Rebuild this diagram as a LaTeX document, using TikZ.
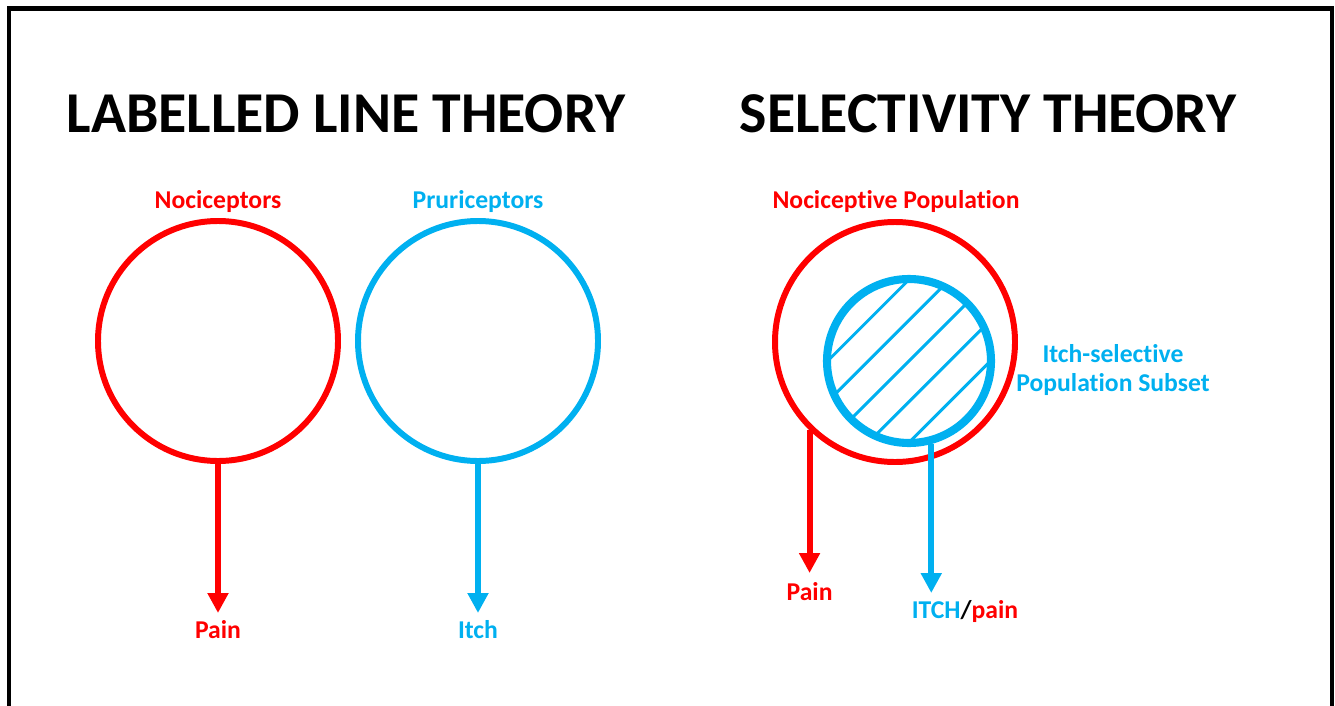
\documentclass[tikz,border=0pt]{standalone}
\usepackage{fontspec}
\setmainfont{Carlito}[Ligatures=NoCommon]
\usetikzlibrary{arrows.meta, positioning, calc}
\definecolor{PainRed}{HTML}{FF0000}
\definecolor{ItchBlue}{HTML}{00B0F0}
\tikzset{
  ttl/.style={font=\fontsize{32.9}{40}\selectfont\bfseries, anchor=base},
  lab/.style={font=\fontsize{14.6}{17}\selectfont\bfseries, inner sep=0pt},
  popcircle/.style={circle, draw, line width=3.4pt, minimum size=4.8cm, inner sep=0pt},
  outarrow/.style={line width=3.4pt, -{Triangle[width=0.4cm,length=0.4cm]}},
}

\begin{document}
\begin{tikzpicture}
    \useasboundingbox (0,0) rectangle (26.7,14.1);
    % Frame (its bottom edge runs off the page)
    \draw[line width=2.3pt] (0.18,-0.5) -- (0.18,13.93) -- (26.64,13.93) -- (26.64,-0.5);

    % Titles
    \node[ttl] (lltTitle) at (6.92,11.46) {LABELLED LINE THEORY};
    \node[ttl] (selTitle) at (19.76,11.46) {SELECTIVITY THEORY};

    % Labelled line theory
    \node[popcircle, PainRed] (noci) at (4.36,7.28) {};
    \node[popcircle, ItchBlue] (pruri) at (9.56,7.28) {};
    \node[lab, PainRed, anchor=base] (nociLab) at (4.36,9.94) {Nociceptors};
    \node[lab, ItchBlue, anchor=base] (pruriLab) at (9.56,9.94) {Pruriceptors};

    \coordinate (painTip) at (noci.south |- 0,1.84);
    \coordinate (itchTip) at (pruri.south |- 0,1.84);
    \draw[outarrow, PainRed] (noci.south) -- (painTip);
    \draw[outarrow, ItchBlue] (pruri.south) -- (itchTip);
    \node[lab, PainRed, below=0.14cm of painTip] (painLab) {Pain};
    \node[lab, ItchBlue, below=0.14cm of itchTip] (itchLab) {Itch};

    % Selectivity theory
    \node[popcircle, PainRed] (nociPop) at (17.9,7.26) {};
    \node[lab, PainRed, anchor=base] (nociPopLab) at (17.92,9.94) {Nociceptive Population};

    % hatched subset
    \coordinate (subC) at (18.18,6.88);
    \begin{scope}
        \clip (subC) circle (1.64);
        \foreach \k in {-2,...,2}
            \draw[ItchBlue, line width=1.7pt] ($(subC)+(\k*0.407,-\k*0.407)+(-2,-2)$) -- ++(4,4);
    \end{scope}
    \node[circle, draw=ItchBlue, line width=4.6pt, minimum size=3.28cm, inner sep=0pt] (itchSub) at (subC) {};
    \node[lab, ItchBlue, align=center] (subLab) at (22.26,6.7) {Itch-selective\\Population Subset};

    \coordinate (painTipR) at (nociPop.226 |- 0,2.64);
    \coordinate (itchTipR) at (itchSub.285 |- 0,2.24);
    \draw[outarrow, PainRed] (nociPop.226) -- (painTipR);
    \draw[outarrow, ItchBlue] (itchSub.285) -- (itchTipR);
    \node[lab, PainRed, below=0.18cm of painTipR] (painLabR) {Pain};
    \node[lab, anchor=base] (itchPainLab) at (19.3,1.74) {\textcolor{ItchBlue}{ITCH}/\textcolor{PainRed}{pain}};
\end{tikzpicture}
\end{document}
